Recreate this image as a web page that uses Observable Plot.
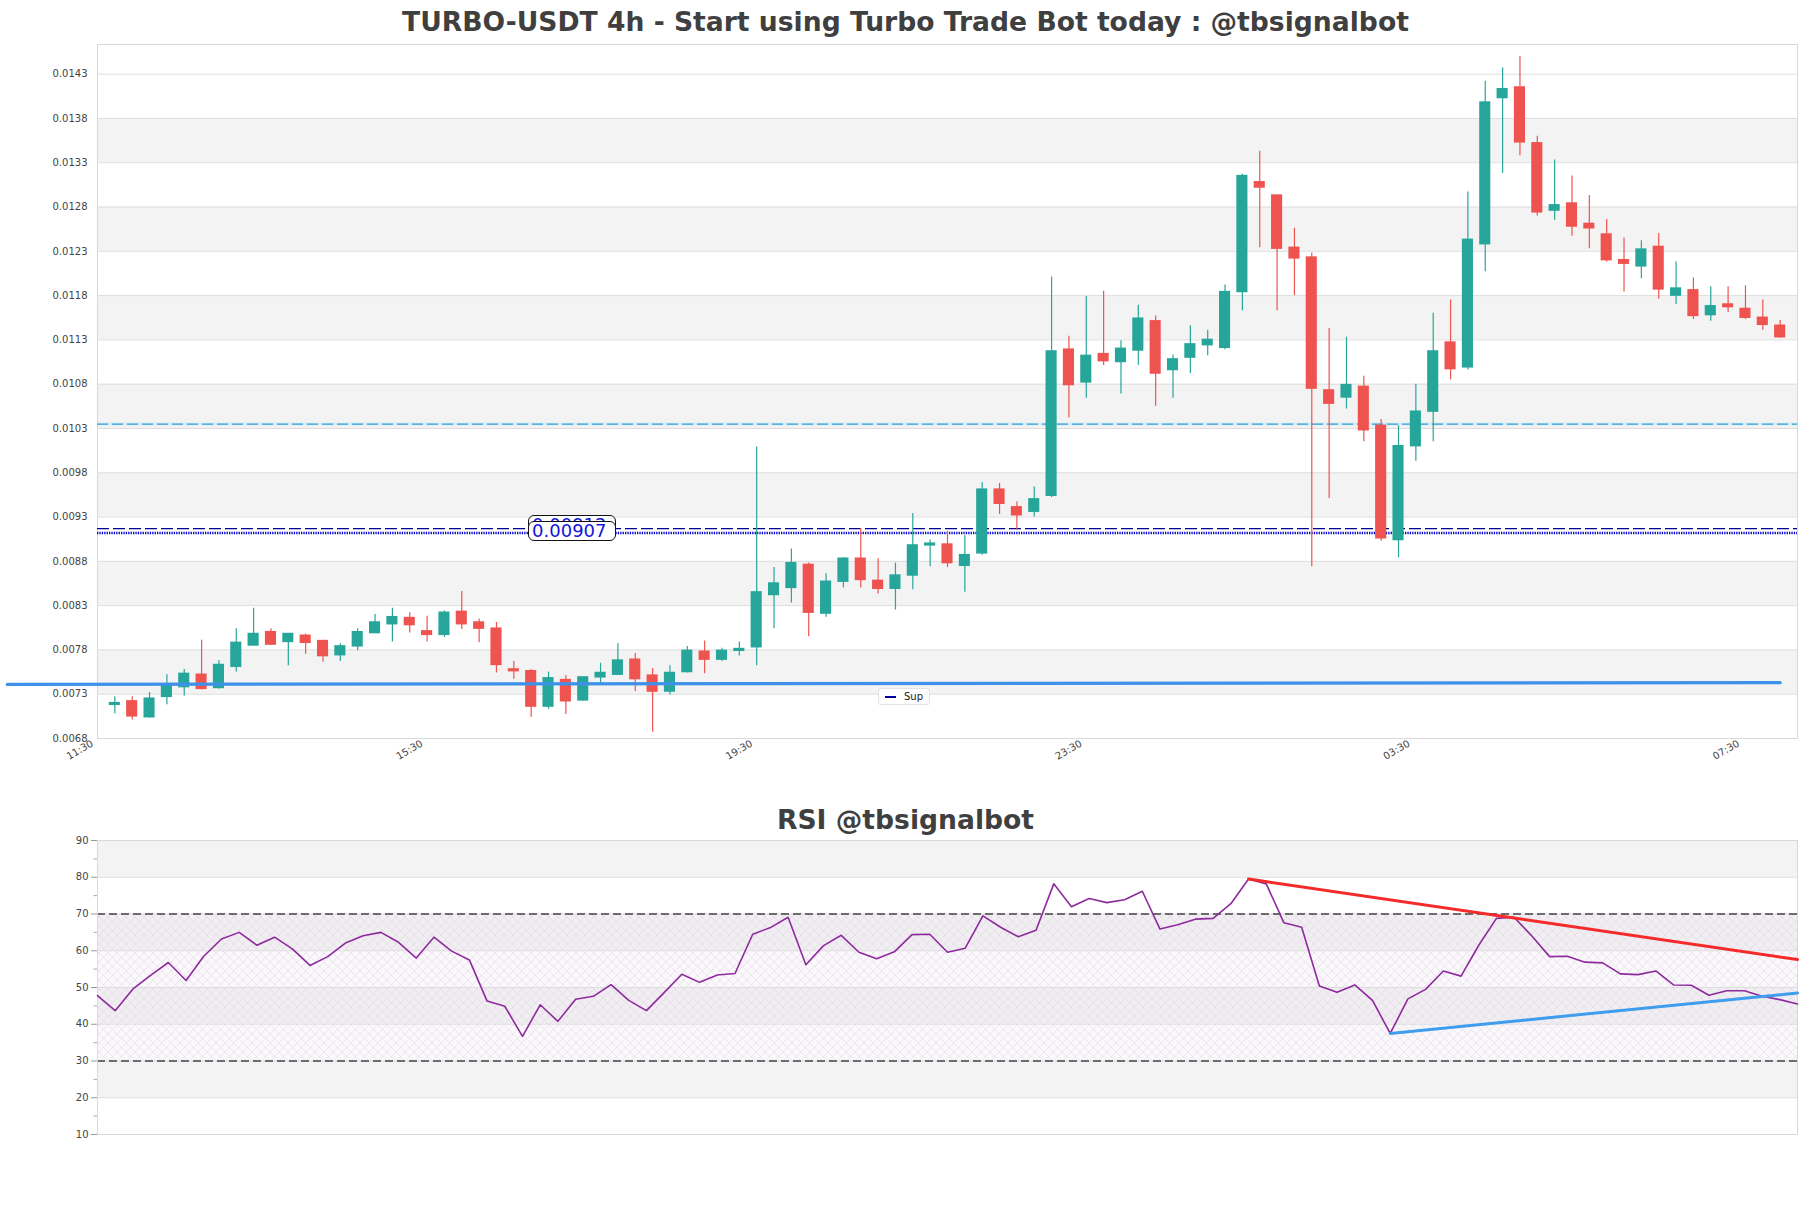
<!DOCTYPE html>
<html>
<head>
<meta charset="utf-8">
<script src="https://cdn.jsdelivr.net/npm/d3@7"></script>
<script src="https://cdn.jsdelivr.net/npm/@observablehq/plot@0.6"></script>
<style>
  html, body { margin: 0; padding: 0; background: #ffffff; }
  #wrap { position: relative; width: 1811px; height: 1208px; overflow: hidden; font-family: "DejaVu Sans", sans-serif; background: #fff; }
  .title { position: absolute; left: 0; width: 1811px; text-align: center; font-weight: bold; font-size: 26.6px; color: #3f3f3f; white-space: nowrap; }
  .plotbox { position: absolute; left: 0; }
  .lvl { position: absolute; box-sizing: border-box; height: 20px; line-height: 18px; font-size: 18px; color: #1515d8; background: #fff; border: 1px solid #111; border-radius: 6px; padding: 0 8px 0 3px; white-space: nowrap; }
  .legend { position: absolute; box-sizing: border-box; background: rgba(255,255,255,0.9); border: 1px solid rgba(215,215,215,0.7); border-radius: 3px; font-size: 10px; color: #222; height: 17px; line-height: 15px; padding: 0 6px 0 6px; white-space: nowrap; }
  .legend .sw { display: inline-block; width: 11px; height: 2px; background: #0000a0; vertical-align: middle; margin-right: 8px; }
</style>
</head>
<body>
<div id="wrap">
  <div class="title" style="top:0;height:44px;line-height:44px;">TURBO-USDT 4h - Start using Turbo Trade Bot today : @tbsignalbot</div>
  <div id="main" class="plotbox" style="top:40px;"></div>
  <div class="title" style="top:800px;height:40px;line-height:40px;">RSI @tbsignalbot</div>
  <div id="rsi" class="plotbox" style="top:836px;"></div>
</div>
<script>
// ---------------- data ----------------
const opens = [0.00718,0.00722,0.00704,0.00727,0.00738,0.00752,0.00737,0.00761,0.00785,0.00800,
  0.00789,0.00796,0.00790,0.00774,0.00784,0.00799,0.00809,0.00816,0.00801,0.00797,
  0.00823,0.00811,0.00804,0.00758,0.00756,0.00716,0.00746,0.00723,0.00749,0.00752,
  0.00769,0.00751,0.00733,0.00755,0.00778,0.00769,0.00779,0.00783,0.00842,0.00850,
  0.00876,0.00821,0.00857,0.00883,0.00858,0.00849,0.00864,0.00898,0.00899,0.00875,
  0.00889,0.00961,0.00941,0.00936,0.00954,0.01119,0.01082,0.01114,0.01105,0.01118,
  0.01151,0.01096,0.01110,0.01124,0.01121,0.01184,0.01308,0.01293,0.01234,0.01223,
  0.01073,0.01065,0.01077,0.01033,0.00904,0.01010,0.01049,0.01127,0.01099,0.01238,
  0.01403,0.01415,0.01352,0.01276,0.01284,0.01261,0.01249,0.01220,0.01213,0.01235,
  0.01180,0.01186,0.01158,0.01170,0.01165,0.01155,0.01146];
const highs = [0.00727,0.00727,0.00732,0.00752,0.00758,0.00791,0.00768,0.00804,0.00827,0.00804,
  0.00798,0.00798,0.00791,0.00787,0.00804,0.00820,0.00827,0.00822,0.00818,0.00824,
  0.00846,0.00815,0.00811,0.00767,0.00758,0.00755,0.00751,0.00749,0.00765,0.00787,
  0.00776,0.00759,0.00762,0.00784,0.00790,0.00782,0.00789,0.01009,0.00873,0.00894,
  0.00878,0.00866,0.00884,0.00917,0.00883,0.00878,0.00934,0.00904,0.00914,0.00909,
  0.00969,0.00968,0.00947,0.00964,0.01201,0.01134,0.01179,0.01185,0.01129,0.01169,
  0.01157,0.01113,0.01146,0.01141,0.01192,0.01317,0.01343,0.01293,0.01256,0.01228,
  0.01143,0.01133,0.01089,0.01040,0.01033,0.01080,0.01160,0.01175,0.01297,0.01422,
  0.01437,0.01450,0.01360,0.01333,0.01315,0.01293,0.01266,0.01245,0.01242,0.01250,
  0.01218,0.01200,0.01190,0.01190,0.01191,0.01175,0.01152];
const lows = [0.00708,0.00701,0.00703,0.00718,0.00728,0.00735,0.00736,0.00755,0.00785,0.00785,
  0.00762,0.00775,0.00766,0.00767,0.00779,0.00799,0.00789,0.00799,0.00789,0.00794,
  0.00803,0.00788,0.00754,0.00747,0.00704,0.00713,0.00707,0.00722,0.00742,0.00751,
  0.00733,0.00687,0.00729,0.00754,0.00753,0.00767,0.00773,0.00762,0.00804,0.00833,
  0.00795,0.00817,0.00850,0.00850,0.00843,0.00825,0.00848,0.00874,0.00873,0.00845,
  0.00887,0.00933,0.00915,0.00930,0.00952,0.01042,0.01064,0.01101,0.01069,0.01101,
  0.01055,0.01064,0.01092,0.01112,0.01119,0.01163,0.01234,0.01163,0.01180,0.00874,
  0.00951,0.01052,0.01015,0.00903,0.00884,0.00993,0.01015,0.01085,0.01096,0.01207,
  0.01318,0.01338,0.01270,0.01265,0.01247,0.01233,0.01218,0.01184,0.01199,0.01176,
  0.01170,0.01153,0.01151,0.01161,0.01153,0.01141,0.01132];
const closes = [0.00720,0.00705,0.00725,0.00740,0.00753,0.00736,0.00763,0.00788,0.00798,0.00786,
  0.00798,0.00788,0.00773,0.00784,0.00800,0.00811,0.00817,0.00808,0.00797,0.00822,
  0.00809,0.00804,0.00763,0.00756,0.00716,0.00748,0.00722,0.00749,0.00754,0.00768,
  0.00747,0.00733,0.00754,0.00779,0.00769,0.00779,0.00781,0.00845,0.00855,0.00878,
  0.00822,0.00857,0.00883,0.00859,0.00849,0.00864,0.00898,0.00900,0.00878,0.00887,
  0.00961,0.00945,0.00932,0.00950,0.01117,0.01079,0.01112,0.01106,0.01120,0.01154,
  0.01092,0.01108,0.01125,0.01130,0.01184,0.01315,0.01302,0.01233,0.01222,0.01075,
  0.01058,0.01079,0.01028,0.00906,0.01010,0.01049,0.01117,0.01097,0.01243,0.01398,
  0.01413,0.01353,0.01274,0.01282,0.01258,0.01256,0.01220,0.01216,0.01232,0.01187,
  0.01188,0.01157,0.01168,0.01167,0.01155,0.01147,0.01133];

const rsiValues = [47.8,43.7,49.6,53.3,56.8,51.9,58.5,63.2,65.0,61.5,
  63.7,60.5,56.0,58.4,62.1,64.1,65.0,62.3,58.0,63.7,
  59.9,57.5,46.3,44.9,36.7,45.3,40.8,46.8,47.6,50.8,
  46.5,43.7,48.6,53.6,51.4,53.4,53.8,64.5,66.3,69.1,
  56.2,61.4,64.2,59.6,57.8,59.7,64.4,64.5,59.6,60.7,
  69.5,66.4,63.8,65.6,78.2,72.0,74.2,73.1,73.9,76.2,
  65.9,67.1,68.6,68.8,72.8,79.5,78.2,67.6,66.4,50.4,
  48.7,50.7,46.5,37.5,46.9,49.5,54.5,53.1,61.5,68.8,
  69.1,64.0,58.4,58.5,56.9,56.7,53.7,53.5,54.5,50.7,
  50.6,47.9,49.1,49.1,47.6,46.7,45.5];

const priceTicks = [0.0068,0.0073,0.0078,0.0083,0.0088,0.0093,0.0098,0.0103,0.0108,0.0113,0.0118,0.0123,0.0128,0.0133,0.0138,0.0143];
const timeTicks = [-1.2,17.8,36.8,55.8,74.7,93.7];
const timeLabels = ["11:30","15:30","19:30","23:30","03:30","07:30"];
const rsiTicks = [10,20,30,40,50,60,70,80,90];
const rsiMinorTicks = [15,25,35,45,55,65,75,85];
const rsiZone = [30,70];

const cyanLevel = 0.01035;
const dashLevel = 0.00917;
const dotLevel = 0.00912;
const levelLabels = ["0.00912","0.00907"];

const supX = [-6.2,96];
const supY = [0.00741,0.00743];
const rsiDownX = [65,96];
const rsiDownY = [79.5,57.6];
const rsiUpX = [73,96];
const rsiUpY = [37.5,48.5];

// ---------------- build ----------------
const GREEN = "#26a69a", RED = "#ef5350", BAND = "#f3f3f3", GRID = "#dedede";
const candles = opens.map((o,i) => ({i, o, h: highs[i], l: lows[i], c: closes[i], up: closes[i] >= o}));
const priceBands = priceTicks.slice(0,-1).map((t,k) => ({y1: t, y2: priceTicks[k+1], k})).filter(d => d.k % 2 === 1);
const rsiBands = rsiTicks.slice(0,-1).map((t,k) => ({y1: t, y2: rsiTicks[k+1], k})).filter(d => d.k % 2 === 1);
const supLine = supX.map((x,k) => ({x, y: supY[k]}));
const downLine = rsiDownX.map((x,k) => ({x, y: rsiDownY[k]}));
const upLine = rsiUpX.map((x,k) => ({x, y: rsiUpY[k]}));

const main = Plot.plot({
  width: 1811, height: 756,
  marginLeft: 97, marginRight: 14, marginTop: 4, marginBottom: 58,
  x: {type: "linear", domain: [-1, 97], axis: null},
  y: {type: "linear", domain: [0.0068, 0.014635], axis: null},
  color: {type: "identity"},
  style: {fontFamily: "DejaVu Sans", fontSize: "10px", background: "transparent", overflow: "visible", color: "#444"},
  marks: [
    Plot.rect(priceBands, {y1: "y1", y2: "y2", fill: BAND}),
    Plot.ruleY(priceTicks, {stroke: GRID, strokeWidth: 1}),
    Plot.frame({stroke: "#d9d9d9"}),
    Plot.ruleY([cyanLevel], {stroke: "#9fe0f5", strokeWidth: 3, strokeOpacity: 0.35}),
    Plot.ruleY([cyanLevel], {stroke: "#2f9fd3", strokeWidth: 1.2, strokeDasharray: "11,4"}),
    Plot.ruleY([dashLevel], {stroke: "#00008b", strokeWidth: 1.3, strokeDasharray: "12,4"}),
    Plot.ruleY([dotLevel], {stroke: "#0000d0", strokeWidth: 2.6, strokeDasharray: "1.3,1.1"}),
    Plot.ruleX(candles, {x: "i", y1: "l", y2: "h", stroke: d => d.up ? GREEN : RED, strokeWidth: 1.2}),
    Plot.rect(candles, {x1: d => d.i - 0.32, x2: d => d.i + 0.32, y1: d => Math.min(d.o, d.c), y2: d => Math.max(d.o, d.c),
      fill: d => d.up ? GREEN : RED, insetTop: -0.7, insetBottom: -0.7}),
    Plot.line(supLine, {x: "x", y: "y", stroke: "#3d91e8", strokeWidth: 3.2}),
    Plot.axisY(priceTicks, {tickSize: 0, tickPadding: 10, tickFormat: d => d.toFixed(4), fontSize: 10, fill: "#444"}),
    Plot.text(timeTicks, {x: d => d, text: (d, k) => timeLabels[k], frameAnchor: "bottom", dy: 7, rotate: -30,
      textAnchor: "end", lineAnchor: "bottom", fontSize: 10, fill: "#444"})
  ]
});
document.getElementById("main").appendChild(main);

const rsiPlot = Plot.plot({
  width: 1811, height: 318,
  marginLeft: 97, marginRight: 14, marginTop: 4, marginBottom: 20,
  x: {type: "linear", domain: [0, 96], axis: null},
  y: {type: "linear", domain: [10, 90], axis: null},
  style: {fontFamily: "DejaVu Sans", fontSize: "10px", background: "transparent", overflow: "visible", color: "#444"},
  marks: [
    Plot.rect(rsiBands, {y1: "y1", y2: "y2", fill: BAND}),
    Plot.rect([rsiZone], {y1: d => d[0], y2: d => d[1], fill: "url(#rsiHatch)"}),
    Plot.ruleY(rsiTicks, {stroke: GRID, strokeWidth: 1}),
    Plot.ruleY(rsiZone, {stroke: "#444", strokeWidth: 1.3, strokeDasharray: "8,4"}),
    Plot.frame({stroke: "#d9d9d9"}),
    Plot.line(rsiValues, {x: (d, i) => i, y: d => d, stroke: "#8e2a9e", strokeWidth: 1.6}),
    Plot.line(downLine, {x: "x", y: "y", stroke: "#f52a2a", strokeWidth: 3}),
    Plot.line(upLine, {x: "x", y: "y", stroke: "#3f9ded", strokeWidth: 3}),
    Plot.axisY(rsiTicks, {tickSize: 6, tickPadding: 3, stroke: "#999", fontSize: 10, fill: "#444"}),
    Plot.axisY(rsiMinorTicks, {tickSize: 3.5, tickFormat: () => "", stroke: "#aaa"})
  ]
});
document.getElementById("rsi").appendChild(rsiPlot);

// hatch pattern definition for the RSI 30-70 zone
const defs = d3.select(rsiPlot).insert("defs", ":first-child");
const pat = defs.append("pattern").attr("id", "rsiHatch").attr("patternUnits", "userSpaceOnUse").attr("width", 9).attr("height", 9);
pat.append("rect").attr("width", 9).attr("height", 9).attr("fill", "rgba(232,214,238,0.16)");
pat.append("path").attr("d", "M0,0L9,9M9,0L0,9M-1,8L1,10M8,-1L10,1").attr("stroke", "#dcd0e0").attr("stroke-width", 0.5).attr("fill", "none");

// level value labels positioned with the chart's own scales
const xs = main.scale("x"), ys = main.scale("y");
const wrap = document.getElementById("wrap");
const mainTop = 40;
[[dashLevel, levelLabels[0], 3.5], [dotLevel, levelLabels[1], 1.5]].forEach(([v, t, off]) => {
  const el = document.createElement("div");
  el.className = "lvl";
  el.textContent = t;
  el.style.left = xs.apply(23.85) + "px";
  el.style.top = (mainTop + ys.apply(v) - off - 10) + "px";
  wrap.appendChild(el);
});

// legend
const lg = document.createElement("div");
lg.className = "legend";
lg.innerHTML = '<span class="sw"></span>Sup';
lg.style.left = "878px";
lg.style.top = "688px";
wrap.appendChild(lg);
</script>
</body>
</html>
